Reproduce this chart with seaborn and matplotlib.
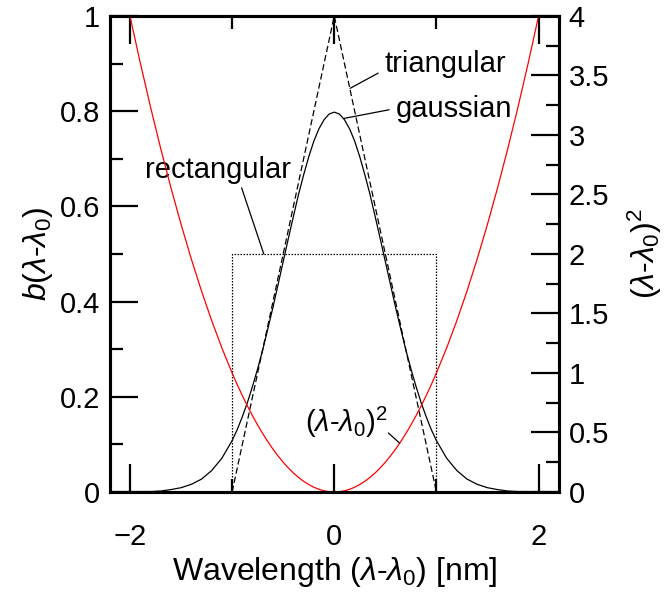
import numpy as np
import matplotlib
matplotlib.use("Agg")
import matplotlib.pyplot as plt
from matplotlib.ticker import MultipleLocator, FuncFormatter
import seaborn as sns

# wavelength offset grid (nm) and profiles
wl = [-2.2, -2.1, -2.0, -1.9, -1.8, -1.7, -1.6, -1.5, -1.4, -1.3, -1.2, -1.1,
      -1.0, -0.95, -0.9, -0.85, -0.8, -0.75, -0.7, -0.65, -0.6, -0.55,
      -0.5, -0.45, -0.4, -0.35, -0.3, -0.25, -0.2, -0.15, -0.1, -0.05,
      0.0,
      0.05, 0.1, 0.15, 0.2, 0.25, 0.3, 0.35, 0.4, 0.45, 0.5,
      0.55, 0.6, 0.65, 0.7, 0.75, 0.8, 0.85, 0.9, 0.95, 1.0,
      1.1, 1.2, 1.3, 1.4, 1.5, 1.6, 1.7, 1.8, 1.9, 2.0, 2.1, 2.2]
gaussian = [0.0, 0.0, 0.0, 0.001, 0.001, 0.002, 0.005, 0.009, 0.016, 0.027, 0.045, 0.071,
            0.108, 0.131, 0.158, 0.188, 0.222, 0.259, 0.299, 0.343, 0.388, 0.436,
            0.484, 0.532, 0.579, 0.625, 0.666, 0.704, 0.737, 0.763, 0.782, 0.794,
            0.798,
            0.794, 0.782, 0.763, 0.737, 0.704, 0.666, 0.625, 0.579, 0.532, 0.484,
            0.436, 0.388, 0.343, 0.299, 0.259, 0.222, 0.188, 0.158, 0.131, 0.108,
            0.071, 0.045, 0.027, 0.016, 0.009, 0.005, 0.002, 0.001, 0.001, 0.0, 0.0, 0.0]
sq_dev = [4.84, 4.41, 4.0, 3.61, 3.24, 2.89, 2.56, 2.25, 1.96, 1.69, 1.44, 1.21,
          1.0, 0.9025, 0.81, 0.7225, 0.64, 0.5625, 0.49, 0.4225, 0.36, 0.3025,
          0.25, 0.2025, 0.16, 0.1225, 0.09, 0.0625, 0.04, 0.0225, 0.01, 0.0025,
          0.0,
          0.0025, 0.01, 0.0225, 0.04, 0.0625, 0.09, 0.1225, 0.16, 0.2025, 0.25,
          0.3025, 0.36, 0.4225, 0.49, 0.5625, 0.64, 0.7225, 0.81, 0.9025, 1.0,
          1.21, 1.44, 1.69, 1.96, 2.25, 2.56, 2.89, 3.24, 3.61, 4.0, 4.41, 4.84]
tri_x = [-1.0, 0.0, 1.0]
tri_y = [0.0, 1.0, 0.0]
rect_x = [-1.0, -1.0, 1.0, 1.0]
rect_y = [0.0, 0.5, 0.5, 0.0]

sns.set_style("white")
plt.rcParams['font.family'] = ['Liberation Sans', 'DejaVu Sans']
plt.rcParams['mathtext.fontset'] = 'custom'
plt.rcParams['mathtext.rm'] = 'Liberation Sans'
plt.rcParams['mathtext.it'] = 'Liberation Sans:italic'
for k in ['text.color', 'axes.labelcolor', 'xtick.color', 'ytick.color', 'axes.edgecolor']:
    plt.rcParams[k] = 'black'

fig = plt.figure(figsize=(6.65, 6.03), dpi=100)
ax = fig.add_axes([0.1647, 0.1841, 0.6759, 0.7894])
ax2 = ax.twinx()

sns.lineplot(x=wl, y=gaussian, ax=ax, color='black', lw=0.9, sort=False, estimator=None)
sns.lineplot(x=tri_x, y=tri_y, ax=ax, color='black', lw=0.9, sort=False, estimator=None)
ax.lines[-1].set_dashes([5, 2.5])
sns.lineplot(x=rect_x, y=rect_y, ax=ax, color='black', lw=0.9, sort=False, estimator=None)
ax.lines[-1].set_dashes([1.2, 1.2])
sns.lineplot(x=wl, y=sq_dev, ax=ax2, color='red', lw=0.9, sort=False, estimator=None)

ax.set_xlim(-2.2, 2.2)
ax.set_ylim(0, 1)
ax2.set_ylim(0, 4)

fmt = FuncFormatter(lambda v, p: '%g' % v if v >= 0 else '\u2212%g' % -v)
ax.xaxis.set_major_locator(MultipleLocator(2))
ax.xaxis.set_minor_locator(MultipleLocator(1))
ax.yaxis.set_major_locator(MultipleLocator(0.2))
ax.yaxis.set_minor_locator(MultipleLocator(0.1))
ax2.yaxis.set_major_locator(MultipleLocator(0.5))
ax2.yaxis.set_minor_locator(MultipleLocator(0.25))
ax.xaxis.set_major_formatter(fmt)
ax.yaxis.set_major_formatter(fmt)
ax2.yaxis.set_major_formatter(fmt)

ax.tick_params(axis='x', which='both', direction='in', top=True, bottom=True, pad=22.5)
ax.tick_params(axis='y', which='both', direction='in', left=True, right=False, pad=7)
ax2.tick_params(axis='y', which='both', direction='in', left=False, right=True, pad=7)
for a in (ax, ax2):
    a.tick_params(which='major', length=20, width=1.6, labelsize=21)
    a.tick_params(which='minor', length=9.5, width=1.6)
    for s in a.spines.values():
        s.set_linewidth(2.2)

ax.set_xlabel(r'Wavelength ($\lambda$-$\lambda_0$) [nm]', fontsize=23, labelpad=3)
ax.set_ylabel(r'$b$($\lambda$-$\lambda_0$)', fontsize=23, labelpad=3)
ax2.set_ylabel(r'($\lambda$-$\lambda_0$)$^2$', fontsize=23, labelpad=12)

# curve labels with leader lines
lead = dict(arrowstyle='-', lw=0.9, color='black', shrinkA=0, shrinkB=0)
ax.text(0.488, 0.882, 'triangular', fontsize=21, ha='left', va='baseline')
ax.annotate('', xy=(0.155, 0.848), xytext=(0.43, 0.88), arrowprops=lead)
ax.text(0.605, 0.788, 'gaussian', fontsize=21, ha='left', va='baseline')
ax.annotate('', xy=(0.1, 0.785), xytext=(0.537, 0.803), arrowprops=lead)
ax.text(-1.854, 0.66, 'rectangular', fontsize=21, ha='left', va='baseline')
ax.annotate('', xy=(-0.69, 0.5), xytext=(-0.907, 0.639), arrowprops=lead)
ax.text(0.517, 0.126, r'($\lambda$-$\lambda_0$)$^2$', fontsize=21, ha='right', va='baseline')
ax2.annotate('', xy=(0.64, 0.41), xytext=(0.53, 0.496), arrowprops=lead)

fig.savefig('out.png', dpi=100)
